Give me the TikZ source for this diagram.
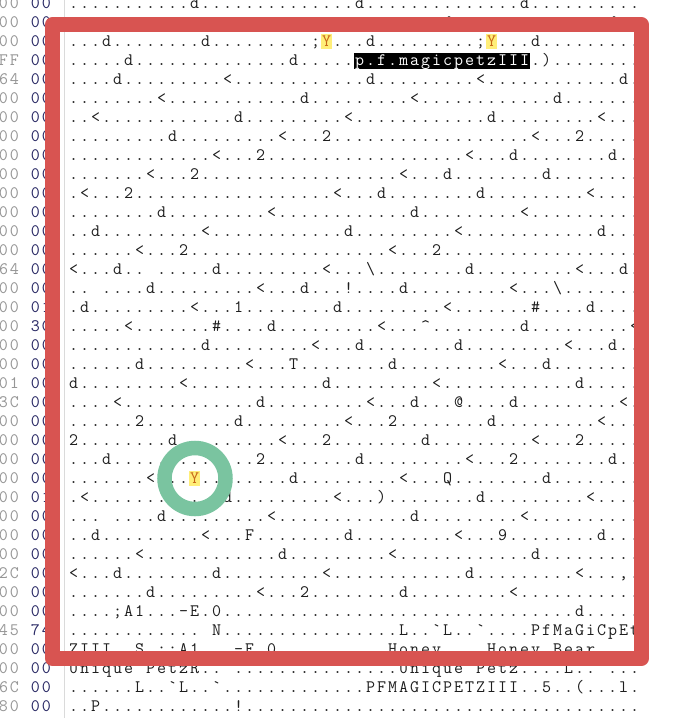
\documentclass[tikz,border=0pt]{standalone}
\usepackage{fontspec}
\newfontfamily\hexfont{Latin Modern Mono}
\newcommand\hxc[1]{\hbox to 11pt{\hss#1\hss}}
\newcommand\hxD{}
\newcommand\hxpair[2]{\hxc{#1}\hxc{#2}}
\ExplSyntaxOn
\bool_new:N \l_hx_run_bool
\cs_new_protected:Npn \hxproc #1
  {
    \bool_set_false:N \l_hx_run_bool
    \tl_map_inline:nn {#1}
      {
        \bool_if:NTF \l_hx_run_bool
          { \prg_replicate:nn {##1} { \hxc{.} } \bool_set_false:N \l_hx_run_bool }
          { \tl_if_eq:nnTF {##1} { \hxD } { \bool_set_true:N \l_hx_run_bool } { \hxc{##1} } }
      }
  }
\ExplSyntaxOff
\definecolor{txt}{RGB}{30,30,30}
\definecolor{hexgrey}{RGB}{150,150,150}
\definecolor{hexblue}{RGB}{40,40,100}
\definecolor{sepline}{RGB}{218,218,218}
\definecolor{hlyellow}{RGB}{255,238,120}
\definecolor{yorange}{RGB}{200,105,25}
\definecolor{boxred}{RGB}{216,84,81}
\definecolor{ringgreen}{RGB}{122,196,160}
\newcommand\hy{\textcolor{yorange}{Y}}
\tikzset{
  monofont/.style={inner sep=0pt, outer sep=0pt, anchor=base west,
    font=\hexfont\fontsize{17.5}{19}\selectfont},
  rowtxt/.style={monofont, text=txt},
  hextxt/.style={monofont},
  ring/.style={draw=ringgreen, line width=14.5pt},
  redframe/.style={draw=boxred, line width=14.5pt, line join=round},
  sep/.style={draw=sepline, line width=1pt}
}
\newcommand\hxrow[2]{\node[rowtxt] (r#1) at (68.2,{8.5+19*#1}) {\hxproc{#2}};}
\begin{document}
\begin{tikzpicture}[x=1pt,y=-1pt]
\useasboundingbox[fill=white] (0,0) rectangle (678,718);
% separator
\coordinate (septop) at (64,0);
\coordinate (sepbot) at (64,718);
\draw[sep] (septop) -- (sepbot);
% hex column
\foreach \i/\a/\b in {0/00/00,1/00/00,2/00/00,3/FF/00,4/64/00,5/00/00,6/00/00,7/00/00,8/00/00,9/00/00,
  10/00/00,11/00/00,12/00/00,13/00/00,14/64/00,15/00/00,16/00/01,17/00/3C,18/00/00,19/00/00,
  20/01/00,21/3C/00,22/00/00,23/00/00,24/00/00,25/00/00,26/00/01,27/00/00,28/00/00,29/00/00,
  30/2C/00,31/00/00,32/00/00,33/45/74,34/00/00,35/00/00,36/6C/00,37/80/00}{
  \node[hextxt, text=hexgrey] (ha\i) at (-2,{8.5+19*\i}) {\expandafter\hxpair\a};
  \node[hextxt, text=hexblue] (hb\i) at (30,{8.5+19*\i}) {\expandafter\hxpair\b};
}
% highlights
\fill[hlyellow] ({68.2+11*23},34) rectangle ++(11,15);
\fill[hlyellow] ({68.2+11*38},34) rectangle ++(11,15);
\fill[hlyellow] ({68.2+11*11},471) rectangle ++(11,15);
\fill[black] ({68.2+11*26},53) rectangle ({68.2+11*42},69);
% text rows
\hxrow{0}{\hxD{11}d\hxD{14}d\hxD{14}d\hxD{10}}
\hxrow{1}{\hxD{34}d\hxD{14}d\hxD{2}}
\hxrow{2}{\hxD{3}d\hxD{8}d\hxD{9};\hy\hxD{3}d\hxD{9};\hy\hxD{3}d\hxD{9}}
\hxrow{3}{\hxD{5}d\hxD{14}d\hxD{5}~~~~~~~~~~~~~~~~.)\hxD{8}}
\node[rowtxt, text=white] (sel) at ({68.2+11*26},{8.5+19*3}) {\hxproc{p.f.magicpetzIII}};
\hxrow{4}{\hxD{4}d\hxD{9}<\hxD{12}d\hxD{9}<\hxD{12}d\hxD{1}}
\hxrow{5}{\hxD{8}<\hxD{12}d\hxD{9}<\hxD{12}d\hxD{7}}
\hxrow{6}{\hxD{2}<\hxD{12}d\hxD{9}<\hxD{12}d\hxD{9}<\hxD{3}}
\hxrow{7}{\hxD{9}d\hxD{9}<\hxD{3}2\hxD{18}<\hxD{3}2\hxD{5}}
\hxrow{8}{\hxD{13}<\hxD{3}2\hxD{18}<\hxD{3}d\hxD{8}d\hxD{2}}
\hxrow{9}{\hxD{7}<\hxD{3}2\hxD{18}<\hxD{3}d\hxD{8}d\hxD{8}}
\hxrow{10}{\hxD{1}<\hxD{3}2\hxD{18}<\hxD{3}d\hxD{8}d\hxD{9}<\hxD{4}}
\hxrow{11}{\hxD{8}d\hxD{9}<\hxD{12}d\hxD{9}<\hxD{10}}
\hxrow{12}{\hxD{2}d\hxD{9}<\hxD{12}d\hxD{9}<\hxD{12}d\hxD{3}}
\hxrow{13}{\hxD{6}<\hxD{3}2\hxD{18}<\hxD{3}2\hxD{18}}
\hxrow{14}{<\hxD{3}d\hxD{2}~\hxD{5}d\hxD{9}<\hxD{3}\textbackslash\hxD{8}d\hxD{9}<\hxD{3}d\hxD{1}}
\hxrow{15}{\hxD{2}~\hxD{4}d\hxD{9}<\hxD{3}d\hxD{3}!\hxD{4}d\hxD{9}<\hxD{3}\textbackslash\hxD{7}}
\hxrow{16}{\hxD{1}d\hxD{9}<\hxD{3}1\hxD{8}d\hxD{9}<\hxD{7}\#\hxD{4}d\hxD{4}}
\hxrow{17}{\hxD{5}<\hxD{7}\#\hxD{4}d\hxD{9}<\hxD{3}\textasciicircum\hxD{8}d\hxD{9}<}
\hxrow{18}{\hxD{12}d\hxD{9}<\hxD{3}d\hxD{8}d\hxD{9}<\hxD{3}d\hxD{2}}
\hxrow{19}{\hxD{6}d\hxD{9}<\hxD{3}T\hxD{8}d\hxD{9}<\hxD{3}d\hxD{8}}
\hxrow{20}{d\hxD{9}<\hxD{12}d\hxD{9}<\hxD{12}d\hxD{5}}
\hxrow{21}{\hxD{4}<\hxD{12}d\hxD{9}<\hxD{3}d\hxD{3}@\hxD{4}d\hxD{9}<\hxD{1}}
\hxrow{22}{\hxD{6}2\hxD{8}d\hxD{9}<\hxD{3}2\hxD{8}d\hxD{9}<\hxD{3}}
\hxrow{23}{2\hxD{8}d\hxD{9}<\hxD{3}2\hxD{8}d\hxD{9}<\hxD{3}2\hxD{5}}
\hxrow{24}{\hxD{3}d\hxD{9}<\hxD{3}2\hxD{8}d\hxD{9}<\hxD{3}2\hxD{8}d\hxD{2}}
\hxrow{25}{\hxD{7}<\hxD{3}\hy\hxD{8}d\hxD{9}<\hxD{3}Q\hxD{8}d\hxD{8}}
\hxrow{26}{\hxD{1}<\hxD{12}d\hxD{9}<\hxD{3})\hxD{8}d\hxD{9}<\hxD{4}}
\hxrow{27}{\hxD{3}~\hxD{4}d\hxD{9}<\hxD{12}d\hxD{9}<\hxD{10}}
\hxrow{28}{\hxD{2}d\hxD{9}<\hxD{3}F\hxD{8}d\hxD{9}<\hxD{3}9\hxD{8}d\hxD{3}}
\hxrow{29}{\hxD{6}<\hxD{12}d\hxD{9}<\hxD{12}d\hxD{9}}
\hxrow{30}{<\hxD{3}d\hxD{8}d\hxD{9}<\hxD{12}d\hxD{9}<\hxD{3},\hxD{1}}
\hxrow{31}{\hxD{7}d\hxD{9}<\hxD{3}2\hxD{8}d\hxD{9}<\hxD{11}}
\hxrow{32}{\hxD{4};A1...-E.0\hxD{32}d\hxD{5}}
\hxrow{33}{\hxD{12}~N\hxD{16}L..\textasciigrave L..\textasciigrave\hxD{4}PfMaGiCpEt}
\hxrow{34}{ZIII..S.;;A1...-E.0\hxD{10}Honey....Honey~Bear\hxD{4}}
\hxrow{35}{Unique~PetzR..~\hxD{15}Unique~Petz\hxD{4}L..~\hxD{3}}
\hxrow{36}{\hxD{6}L..\textasciigrave L..\textasciigrave\hxD{13}PFMAGICPETZIII..5..(...l.}
\hxrow{37}{\hxD{2}P\hxD{12}!\hxD{36}}
% annotations
\draw[ring] (195,478.5) circle[radius=30.5];
\draw[redframe] (52.5,24.5) rectangle (641.5,658.5);
\end{tikzpicture}
\end{document}
